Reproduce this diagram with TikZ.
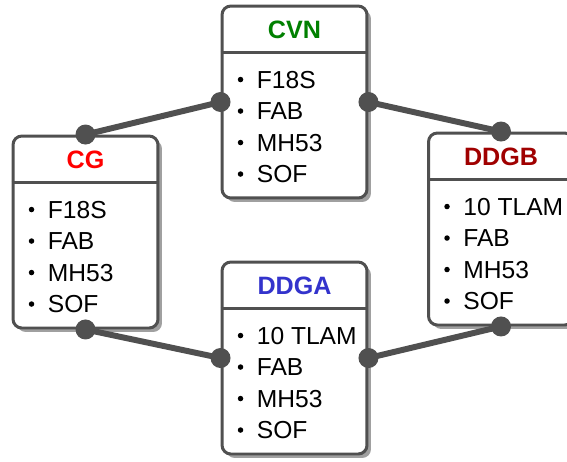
\documentclass[tikz,border=0pt]{standalone}
\usepackage{fontspec}
\setmainfont{Liberation Sans}
\usetikzlibrary{positioning,calc,shadows}
\definecolor{flInk}{HTML}{505050}
\definecolor{flGreen}{HTML}{008000}
\definecolor{flRed}{HTML}{FF0000}
\definecolor{flDarkRed}{HTML}{A00000}
\definecolor{flBlue}{HTML}{3333CC}
\tikzset{
  flBox/.style={draw=flInk,fill=white,rounded corners=5pt,line width=1.7pt,
    minimum width=2.9cm,minimum height=3.84cm,inner sep=0pt,
    drop shadow={shadow xshift=0.08cm,shadow yshift=-0.08cm,fill=black!50,opacity=.75}},
  flTitle/.style={font=\bfseries\fontsize{14.3}{16}\selectfont,inner sep=0pt},
  flItem/.style={font=\fontsize{14}{16}\selectfont,anchor=west,inner sep=0pt},
  flBullet/.style={circle,fill=black,minimum size=0.11cm,inner sep=0pt},
  flDot/.style={circle,fill=flInk,minimum size=0.4cm,inner sep=0pt},
  flLink/.style={draw=flInk,line width=3.4pt}
}
\begin{document}
\begin{tikzpicture}[x=0.02cm,y=-0.02cm]
\useasboundingbox (0,0) rectangle (567,461);
% ship boxes
\foreach \name/\title/\col/\first/\x/\y in {cvn/CVN/flGreen/F18S/294.5/102,
    cg/CG/flRed/F18S/85.5/232, ddgb/DDGB/flDarkRed/10 TLAM/501/229,
    ddga/DDGA/flBlue/10 TLAM/294.5/358}{
  \node[flBox] (\name) at (\x,\y) {};
  \draw[draw=flInk,line width=1.7pt] ($(\name.north west)+(0,48)$) -- ($(\name.north east)+(0,48)$);
  \node[flTitle,text=\col] (\name-title) at ($(\name.north)+(0,25)$) {\title};
  \foreach \item [count=\i] in {\first,FAB,MH53,SOF}{
    \pgfmathsetmacro{\dy}{75+31.5*(\i-1)}
    \node[flBullet] (\name-b\i) at ($(\name.north west)+(20,\dy)$) {};
    \node[flItem] (\name-i\i) at ($(\name.north west)+(36,\dy)$) {\item};
  }
}
% links between ships
\node[flDot] (cvn-l) at (cvn.west) {};
\node[flDot] (cvn-r) at (cvn.east) {};
\node[flDot] (cg-t) at (cg.north) {};
\node[flDot] (cg-b) at (cg.south) {};
\node[flDot] (ddgb-t) at (ddgb.north) {};
\node[flDot] (ddgb-b) at (ddgb.south) {};
\node[flDot] (ddga-l) at (ddga.west) {};
\node[flDot] (ddga-r) at (ddga.east) {};
\foreach \from/\to in {cg-t/cvn-l,cvn-r/ddgb-t,cg-b/ddga-l,ddga-r/ddgb-b}
  \draw[flLink] (\from.center) -- (\to.center);
\end{tikzpicture}
\end{document}
